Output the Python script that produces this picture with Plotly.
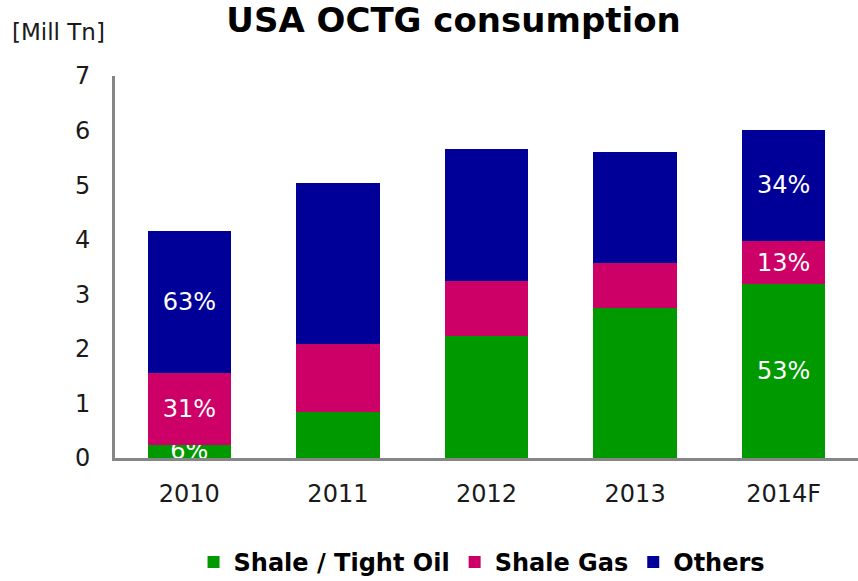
import plotly.graph_objects as go

years = ['2010', '2011', '2012', '2013', '2014F']

# Mill Tn per segment
shale_oil = [0.24, 0.85, 2.24, 2.75, 3.18]
shale_gas = [1.31, 1.23, 1.00, 0.82, 0.80]
others    = [2.61, 2.96, 2.42, 2.03, 2.03]

# share labels (only shown on first and last bar)
oil_lbl    = ['6%', '', '', '', '53%']
gas_lbl    = ['31%', '', '', '', '13%']
others_lbl = ['63%', '', '', '', '34%']

series = [
    ('Shale / Tight Oil', shale_oil, oil_lbl, '#009900'),
    ('Shale Gas', shale_gas, gas_lbl, '#CC0066'),
    ('Others', others, others_lbl, '#000099'),
]

fig = go.Figure()
for name, vals, lbl, col in series:
    fig.add_trace(go.Bar(
        x=years, y=vals, name=name, text=lbl,
        marker=dict(color=col, line=dict(width=0)),
        textposition='inside', insidetextanchor='middle',
        textangle=0, constraintext='none', cliponaxis=False,
        textfont=dict(family='DejaVu Sans', size=24, color='white'),
        hoverinfo='skip',
    ))

fig.update_layout(
    barmode='stack',
    bargap=0.44,
    width=858, height=581,
    margin=dict(l=115, r=0, t=76, b=122.5, autoexpand=False),
    plot_bgcolor='white', paper_bgcolor='white',
    font=dict(family='DejaVu Sans', color='#1a1a1a'),
    title=dict(
        text='<b>USA OCTG consumption</b>',
        x=0.5286, xanchor='center', y=0.966, yanchor='middle',
        font=dict(family='DejaVu Sans', size=34, color='black'),
    ),
    legend=dict(
        orientation='h', x=0.494, xanchor='center', y=-0.273, yanchor='middle',
        font=dict(family='DejaVu Sans', size=24, color='black', weight='bold'),
        traceorder='normal',
    ),
    showlegend=True,
    annotations=[dict(
        text='[Mill Tn]', xref='paper', yref='paper',
        x=-0.1413, xanchor='left', y=1.115, yanchor='middle',
        showarrow=False, font=dict(family='DejaVu Sans', size=23, color='#1a1a1a'),
    )],
)

fig.update_xaxes(
    showline=True, linecolor='#868686', linewidth=3,
    showgrid=False, ticks='', ticklabelstandoff=12, automargin=False,
    tickfont=dict(family='DejaVu Sans', size=24, color='#1a1a1a'),
)
fig.update_yaxes(
    range=[0, 7], dtick=1, showline=True, linecolor='#868686', linewidth=3,
    showgrid=False, zeroline=False, ticks='', ticklabelstandoff=17, automargin=False,
    tickfont=dict(family='DejaVu Sans', size=24, color='#1a1a1a'),
)

# drop the default page margin so the 858x581 figure fills the window
fig.write_html('out.html', config={'displayModeBar': False},
               post_script="document.body.style.margin = '0';")
